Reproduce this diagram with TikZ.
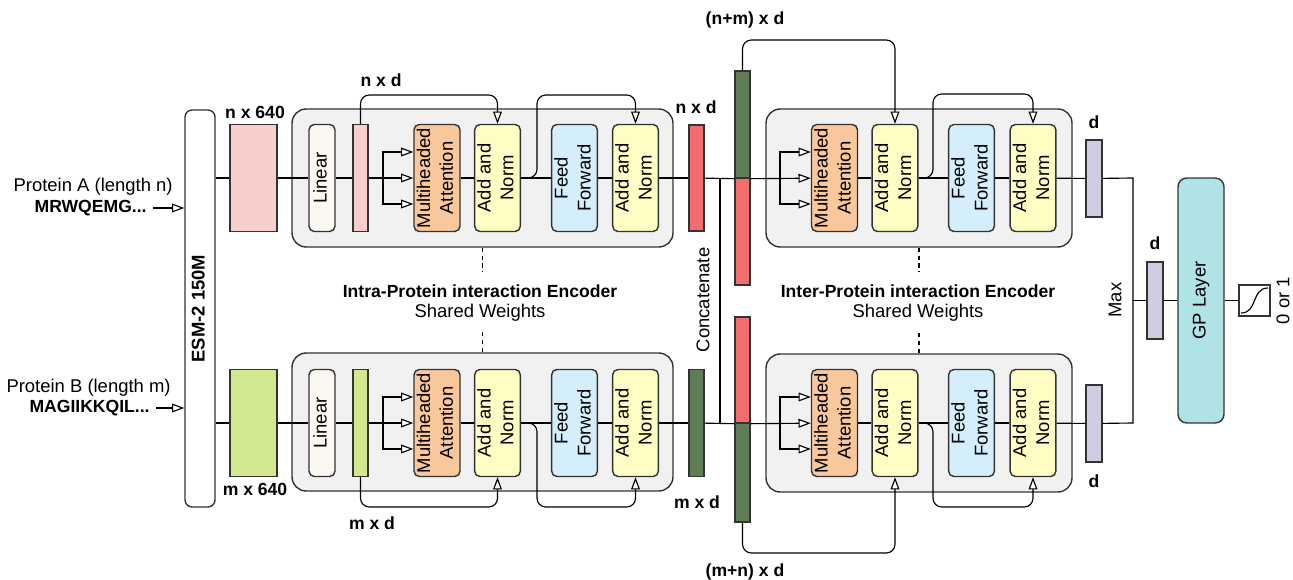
\documentclass[tikz,border=0pt]{standalone}
\usepackage{fontspec}
\setmainfont{Liberation Sans}
\usepackage{graphicx}
\usetikzlibrary{arrows.meta}
\definecolor{embpink}{HTML}{F8CECC}
\definecolor{embgreen}{HTML}{D1E88F}
\definecolor{lincol}{HTML}{FBF8F1}
\definecolor{mhacol}{HTML}{F8C79C}
\definecolor{addcol}{HTML}{FFFCC4}
\definecolor{ffcol}{HTML}{D5EEFB}
\definecolor{encgray}{HTML}{F1F1F1}
\definecolor{outred}{HTML}{F26D6D}
\definecolor{outgreen}{HTML}{607E56}
\definecolor{lavcol}{HTML}{D0CDE3}
\definecolor{gpcol}{HTML}{B0E3E6}
\tikzset{>={Triangle[length=7pt,width=5pt,fill=white]}}
\tikzset{
  blk/.style={draw=black!80, line width=0.8pt, rounded corners=3pt, minimum width=0.9cm, minimum height=2.14cm, inner sep=0pt},
  vec/.style={draw=black!80, line width=0.8pt, inner sep=0pt, minimum width=0.3cm},
  encbox/.style={draw=black!80, fill=encgray, line width=0.8pt, rounded corners=8pt, minimum height=2.76cm, inner sep=0pt},
  lbl/.style={font=\bfseries},
  skip/.style={->, rounded corners=5pt}
}
\newcommand{\vtxt}[1]{\rotatebox{90}{\begin{tabular}{@{}c@{}}#1\end{tabular}}}

\begin{document}
\begin{tikzpicture}[x=0.02cm, y=-0.02cm, font=\fontsize{10.5}{13}\selectfont, line width=0.65pt]
  \useasboundingbox (0,0) rectangle (1293,580);
  % inputs and ESM
  \node[draw=black!80, line width=0.8pt, rounded corners=4pt, minimum width=0.6cm, minimum height=7.94cm, inner sep=0pt] (esm) at (200,308.5) {\vtxt{\bfseries ESM-2 150M}};
  \node[anchor=east] (protA) at (179,187) {Protein A (length n)};
  \node[lbl, anchor=east] (seqA) at (153,208) {MRWQEMG...};
  \node[anchor=east] (protB) at (177,388) {Protein B (length m)};
  \node[lbl, anchor=east] (seqB) at (156,408) {MAGIIKKQIL...};
  \draw[->] (seqA) -- (seqA -| esm.west);
  \draw[->] (seqB) -- (seqB -| esm.west);
  \node[vec, fill=embpink, minimum width=0.94cm, minimum height=2.14cm] (embA) at (253.5,178) {};
  \node[vec, fill=embgreen, minimum width=0.94cm, minimum height=2.14cm] (embB) at (253.5,423) {};
  \node[lbl] (dimA) at (255,112) {n x 640};
  \node[lbl] (dimB) at (255,489) {m x 640};

  % intra-protein encoder, protein A
  \node[encbox, minimum width=7.62cm] (encA) at (482.5,178) {};
  \node[blk, fill=lincol, minimum width=0.52cm] (linA) at (322,178) {\vtxt{Linear}};
  \node[vec, fill=embpink, minimum height=2.14cm] (hidA) at (360.5,178) {};
  \node[blk, fill=mhacol, minimum width=0.92cm] (mhaA) at (437,178) {\vtxt{Multiheaded\\Attention}};
  \node[blk, fill=addcol] (addA) at (497.5,178) {\vtxt{Add and\\Norm}};
  \node[blk, fill=ffcol] (ffA) at (574.5,178) {\vtxt{Feed\\Forward}};
  \node[blk, fill=addcol] (normA) at (635.5,178) {\vtxt{Add and\\Norm}};
  \node[vec, fill=outred, minimum height=2.12cm] (outA) at (696.5,178) {};
  \node[lbl] (hdA) at (381,80) {n x d};
  \node[lbl] (odA) at (696,107) {n x d};
  \draw (esm.east |- embA) -- (embA) -- (linA) -- (hidA);
  \draw[->] (hidA) -- (mhaA);
  \coordinate (fkA) at (383,178);
  \draw[->] (fkA) |- ([yshift=0.52cm]mhaA.west);
  \draw[->] (fkA) |- ([yshift=-0.52cm]mhaA.west);
  \draw (mhaA) -- (addA) -- (ffA) -- (normA) -- (outA);
  \draw[skip] (hidA.north) -- (hidA.north |- 0,95) -- (addA.north |- 0,95) -- (addA.north);
  \draw[skip] (addA.east) -- (537,178) -- (537,95) -- (normA.north |- 0,95) -- (normA.north);

  % intra-protein encoder, protein B
  \node[encbox, minimum width=7.62cm] (encB) at (482.5,422) {};
  \node[blk, fill=lincol, minimum width=0.52cm] (linB) at (322,423) {\vtxt{Linear}};
  \node[vec, fill=embgreen, minimum height=2.14cm] (hidB) at (360.5,423) {};
  \node[blk, fill=mhacol, minimum width=0.92cm] (mhaB) at (437,423) {\vtxt{Multiheaded\\Attention}};
  \node[blk, fill=addcol] (addB) at (497.5,423) {\vtxt{Add and\\Norm}};
  \node[blk, fill=ffcol] (ffB) at (574.5,423) {\vtxt{Feed\\Forward}};
  \node[blk, fill=addcol] (normB) at (635.5,423) {\vtxt{Add and\\Norm}};
  \node[vec, fill=outgreen, minimum height=2.14cm] (outB) at (696.5,423) {};
  \node[lbl] (hdB) at (372,523) {m x d};
  \node[lbl] (odB) at (697,502) {m x d};
  \draw (esm.east |- embB) -- (embB) -- (linB) -- (hidB);
  \draw[->] (hidB) -- (mhaB);
  \coordinate (fkB) at (383,423);
  \draw[->] (fkB) |- ([yshift=0.52cm]mhaB.west);
  \draw[->] (fkB) |- ([yshift=-0.52cm]mhaB.west);
  \draw (mhaB) -- (addB) -- (ffB) -- (normB) -- (outB);
  \draw[skip] (hidB.south) -- (hidB.south |- 0,507) -- (addB.south |- 0,507) -- (addB.south);
  \draw[skip] (addB.east) -- (537,423) -- (537,507) -- (normB.south |- 0,507) -- (normB.south);

  \node[lbl] (titA) at (480,291) {Intra-Protein interaction Encoder};
  \node (swA) at (480,313) {Shared Weights};
  \draw[dashed, dash pattern=on 2.5pt off 2pt] (encA.south) -- ++(0,24);
  \draw[dashed, dash pattern=on 2.5pt off 2pt] (encB.north) -- ++(0,-20);

  % concatenation
  \node[vec, fill=outgreen, minimum height=2.14cm] (barAu) at (742.5,124.5) {};
  \node[vec, fill=outred, minimum height=2.14cm] (barAl) at (742.5,231.5) {};
  \node[vec, fill=outred, minimum height=2.12cm] (barBu) at (742.5,370) {};
  \node[vec, fill=outgreen, minimum height=1.98cm] (barBl) at (742.5,472.5) {};
  \coordinate (catA) at (720,178);
  \coordinate (catB) at (720,423);
  \draw (outA) -- (barAu.south west);
  \draw (outB) -- (barBu.south west);
  \draw (catA) -- (catB);
  \node[rotate=90] (cat) at (703,300) {Concatenate};
  \node[lbl] (ndA) at (745,20) {(n+m) x d};
  \node[lbl] (ndB) at (745,572) {(m+n) x d};

  % inter-protein encoder, top
  \node[encbox, minimum width=6.12cm] (encC) at (919,178) {};
  \node[blk, fill=mhacol, minimum width=0.92cm] (mhaC) at (834.5,178) {\vtxt{Multiheaded\\Attention}};
  \node[blk, fill=addcol] (addC) at (895,178) {\vtxt{Add and\\Norm}};
  \node[blk, fill=ffcol] (ffC) at (971.5,178) {\vtxt{Feed\\Forward}};
  \node[blk, fill=addcol] (normC) at (1033,178) {\vtxt{Add and\\Norm}};
  \draw[->] (barAu.south east) -- (mhaC);
  \coordinate (fkC) at (780,178);
  \draw[->] (fkC) |- ([yshift=0.52cm]mhaC.west);
  \draw[->] (fkC) |- ([yshift=-0.52cm]mhaC.west);
  \draw (mhaC) -- (addC) -- (ffC) -- (normC);
  \draw[skip] (barAu.north) -- (barAu.north |- 0,40) -- (addC.north |- 0,40) -- (addC.north);
  \draw[skip] (addC.east) -- (933,178) -- (933,94) -- (normC.north |- 0,94) -- (normC.north);

  % inter-protein encoder, bottom
  \node[encbox, minimum width=6.12cm] (encD) at (919,423) {};
  \node[blk, fill=mhacol, minimum width=0.92cm] (mhaD) at (834.5,423) {\vtxt{Multiheaded\\Attention}};
  \node[blk, fill=addcol] (addD) at (895,423) {\vtxt{Add and\\Norm}};
  \node[blk, fill=ffcol] (ffD) at (971.5,423) {\vtxt{Feed\\Forward}};
  \node[blk, fill=addcol] (normD) at (1033,423) {\vtxt{Add and\\Norm}};
  \draw[->] (barBu.south east) -- (mhaD);
  \coordinate (fkD) at (780,423);
  \draw[->] (fkD) |- ([yshift=0.52cm]mhaD.west);
  \draw[->] (fkD) |- ([yshift=-0.52cm]mhaD.west);
  \draw (mhaD) -- (addD) -- (ffD) -- (normD);
  \draw[skip] (barBl.south) -- (barBl.south |- 0,553) -- (addD.south |- 0,553) -- (addD.south);
  \draw[skip] (addD.east) -- (933,423) -- (933,507) -- (normD.south |- 0,507) -- (normD.south);

  \node[lbl] (titC) at (918,291) {Inter-Protein interaction Encoder};
  \node (swC) at (918,313) {Shared Weights};
  \draw[dashed, dash pattern=on 2.5pt off 2pt] (encC.south) -- ++(0,24);
  \draw[dashed, dash pattern=on 2.5pt off 2pt] (encD.north) -- ++(0,-21);

  % pooling and GP layer
  \node[vec, fill=lavcol, minimum width=0.32cm, minimum height=1.54cm] (poolC) at (1094,178.5) {};
  \node[vec, fill=lavcol, minimum width=0.32cm, minimum height=1.54cm] (poolD) at (1094,423.5) {};
  \node[vec, fill=lavcol, minimum width=0.32cm, minimum height=1.54cm] (poolM) at (1155,300.5) {};
  \node[lbl] (pdC) at (1094,122) {d};
  \node[lbl] (pdD) at (1094,481) {d};
  \node[lbl] (pdM) at (1155,243) {d};
  \coordinate (mxC) at (1133,178);
  \coordinate (mxD) at (1133,423);
  \coordinate (mxJ) at (1133,300.5);
  \draw (normC) -- (poolC) -- (mxC) -- (mxD) -- (poolD) -- (normD);
  \node[rotate=90] (mx) at (1115,300) {Max};
  \node[draw=black!80, fill=gpcol, line width=0.8pt, rounded corners=5pt, minimum width=0.92cm, minimum height=4.9cm, inner sep=0pt] (gp) at (1201,300.5) {\vtxt{GP Layer}};
  \node[draw=black!80, line width=0.8pt, minimum size=0.62cm, inner sep=0pt] (sig) at (1254.5,300.5) {};
  \draw (mxJ) -- (poolM) -- (gp) -- (sig);
  \draw (1241,313) .. controls (1258,313) and (1251,288) .. (1268,288);
  \node[rotate=90] (res) at (1283,300.5) {0 or 1};
\end{tikzpicture}
\end{document}
